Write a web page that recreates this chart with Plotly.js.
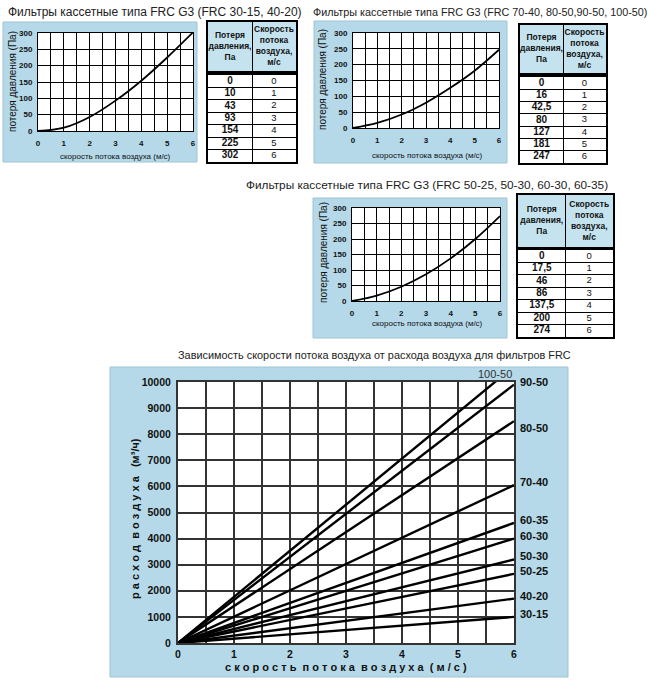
<!DOCTYPE html>
<html>
<head>
<meta charset="utf-8">
<script src="https://cdn.plot.ly/plotly-3.0.1.min.js"></script>
<style>
  html, body { margin: 0; padding: 0; background: #fff; }
  #chart { width: 666px; height: 690px; }
</style>
</head>
<body>
<div id="chart"></div>
<script>
// ---------- data ----------
const speeds = [0, 1, 2, 3, 4, 5, 6];

// pressure loss (Pa) per filter group
const lossA = [0, 10, 43, 93, 154, 225, 302];        // FRC 30-15, 40-20
const lossB = [0, 16, 42.5, 80, 127, 181, 247];      // FRC 70-40, 80-50, 90-50, 100-50
const lossC = [0, 17.5, 46, 86, 137.5, 200, 274];    // FRC 50-25, 50-30, 60-30, 60-35

const tableHeads = ["Потеря<br>давления,<br>Па", "Скорость<br>потока<br>воздуха,<br>м/с"];

// air flow (m3/h) at 0 and 6 m/s for each filter size
const flowModels = ["100-50", "90-50", "80-50", "70-40", "60-35", "60-30", "50-30", "50-25", "40-20", "30-15"];
const flowSpeed = [0, 6];
const flowAt6 = [10600, 9900, 8500, 6050, 4600, 4000, 3200, 2650, 1700, 1000];

const titleA = "Фильтры кассетные типа FRC G3 (FRC 30-15, 40-20)";
const titleB = "Фильтры кассетные типа FRC G3 (FRC 70-40, 80-50,90-50, 100-50)";
const titleC = "Фильтры кассетные типа FRC G3 (FRC 50-25, 50-30, 60-30, 60-35)";
const titleMain = "Зависимость скорости потока воздуха от расхода воздуха для фильтров FRC";
const lossXTitle = "скорость потока воздуха (м/с)";
const lossYTitle = "потеря давления (Па)";
const flowXTitle = "с к о р о с т ь  п о т о к а  в о з д у х а  ( м / с )";
const flowYTitle = "р а с х о д  в о з д у х а   (м³/ч)";

// ---------- helpers ----------
const W = 666, H = 690;
const px = (x) => x / W;
const py = (y) => 1 - y / H;

const FONT = "Liberation Sans, Arial, sans-serif";
const NARROW = "Liberation Sans Narrow, Arial Narrow, Liberation Sans, Arial, sans-serif";
const BLUE = "#b5d9e8";
const HEAD_BLUE = "#c4e3ef";
const CLEAR = "rgba(0,0,0,0)";

const fmt = (v) => String(v).replace(".", ",");

function smallAxes(n, xd, yd) {
  const ax = {};
  ax["xaxis" + n] = {
    domain: xd, anchor: "y" + n, range: [0, 6], dtick: 1, tick0: 0,
    showgrid: true, gridcolor: "#000", gridwidth: 1,
    minor: { dtick: 0.5, showgrid: true, gridcolor: "#000", gridwidth: 1 },
    zeroline: false, showline: true, mirror: true, linecolor: "#000", linewidth: 1,
    ticks: "outside", ticklen: 4, tickcolor: CLEAR,
    tickfont: { family: FONT, size: 8, weight: "bold", color: "#111" },
    fixedrange: true,
  };
  ax["yaxis" + n] = {
    domain: yd, anchor: "x" + n, range: [0, 300], dtick: 50, tick0: 0,
    showgrid: true, gridcolor: "#000", gridwidth: 1,
    zeroline: false, showline: true, mirror: true, linecolor: "#000", linewidth: 1,
    ticks: "outside", ticklen: 3, tickcolor: CLEAR,
    tickfont: { family: FONT, size: 8, weight: "bold", color: "#111" },
    fixedrange: true,
  };
  return ax;
}

function lossTrace(loss, n) {
  return {
    x: speeds, y: loss, xaxis: "x" + n, yaxis: "y" + n,
    type: "scatter", mode: "lines", line: { color: "#000", width: 1.8, shape: "spline" },
    hoverinfo: "x+y", showlegend: false,
  };
}

// a table is two small subplots: header (n) and body (n + 1)
function tableAxes(n, xs, headY, bodyY) {
  const base = {
    range: [-0.5, 1.5], tickvals: [0.5], showticklabels: false, ticks: "",
    showgrid: true, gridcolor: "#000", gridwidth: 1, zeroline: false,
    showline: true, mirror: true, linecolor: "#000", linewidth: 1.5, fixedrange: true,
  };
  const ax = {};
  ax["xaxis" + n] = { ...base, domain: [px(xs[0]), px(xs[1])], anchor: "y" + n };
  ax["yaxis" + n] = { ...base, range: [0, 1], tickvals: [], domain: [py(headY[1]), py(headY[0])], anchor: "x" + n };
  ax["xaxis" + (n + 1)] = { ...base, domain: [px(xs[0]), px(xs[1])], anchor: "y" + (n + 1) };
  ax["yaxis" + (n + 1)] = {
    ...base, range: [speeds.length - 0.5, -0.5], tickvals: speeds.slice(0, -1).map((s) => s + 0.5),
    domain: [py(bodyY[1]), py(bodyY[0])], anchor: "x" + (n + 1),
  };
  return ax;
}

function tableTraces(loss, n) {
  const hx = "x" + n, hy = "y" + n, bx = "x" + (n + 1), by = "y" + (n + 1);
  return [
    {
      x: [0, 1], y: [0.5, 0.5], xaxis: hx, yaxis: hy, type: "scatter", mode: "text",
      text: tableHeads.map((t) => "<b>" + t + "</b>"), textposition: "middle center",
      textfont: { family: NARROW, size: 8.5, color: "#111" }, hoverinfo: "skip", showlegend: false,
    },
    {
      x: loss.map(() => 0), y: speeds.map((s, i) => i), xaxis: bx, yaxis: by, type: "scatter", mode: "text",
      text: loss.map((v) => "<b>" + fmt(v) + "</b>"), textposition: "middle center",
      textfont: { family: NARROW, size: 10, color: "#111" }, hoverinfo: "skip", showlegend: false,
    },
    {
      x: speeds.map(() => 1), y: speeds.map((s, i) => i), xaxis: bx, yaxis: by, type: "scatter", mode: "text",
      text: speeds.map(String), textposition: "middle center",
      textfont: { family: NARROW, size: 9.5, color: "#111" }, hoverinfo: "skip", showlegend: false,
    },
  ];
}

// ---------- traces ----------
const traces = [lossTrace(lossA, ""), lossTrace(lossB, 2), lossTrace(lossC, 3)];

flowModels.forEach((m, i) => {
  traces.push({
    x: flowSpeed, y: [0, flowAt6[i]], xaxis: "x4", yaxis: "y4",
    type: "scatter", mode: "lines", name: m,
    line: { color: "#000", width: 2.4 }, showlegend: false,
  });
});

traces.push(...tableTraces(lossA, 5), ...tableTraces(lossB, 7), ...tableTraces(lossC, 9));

// ---------- layout ----------
const mainAxes = {
  xaxis4: {
    domain: [px(178), px(514)], anchor: "y4", range: [0, 6], dtick: 1, tick0: 0,
    showgrid: true, gridcolor: "#333", gridwidth: 2,
    minor: { dtick: 0.5, showgrid: true, gridcolor: "#333", gridwidth: 2 },
    zeroline: false, showline: true, mirror: true, linecolor: "#333", linewidth: 2,
    ticks: "", tickfont: { family: FONT, size: 10.5, weight: "bold", color: "#111" },
    fixedrange: true,
  },
  yaxis4: {
    domain: [py(643), py(382)], anchor: "x4", range: [0, 10000], dtick: 1000, tick0: 0,
    tickformat: "d",
    showgrid: true, gridcolor: "#333", gridwidth: 2,
    zeroline: false, showline: true, mirror: true, linecolor: "#333", linewidth: 2,
    ticks: "outside", ticklen: 3, tickcolor: CLEAR,
    tickfont: { family: FONT, size: 10.5, weight: "bold", color: "#111" },
    fixedrange: true,
  },
};

const panel = (x0, y0, x1, y1) => ({
  type: "rect", xref: "paper", yref: "paper", layer: "below",
  x0: px(x0), x1: px(x1), y0: py(y1), y1: py(y0),
  fillcolor: BLUE, line: { color: "#9fc4d3", width: 1 },
});
const plotBg = (n, color) => ({
  type: "rect", xref: "x" + n + " domain", yref: "y" + n + " domain", layer: "below",
  x0: 0, x1: 1, y0: 0, y1: 1, fillcolor: color, line: { width: 0 },
});

const shapes = [
  panel(3, 22, 197, 162),
  panel(314, 21, 507, 163),
  panel(313, 198, 507, 338),
  panel(110, 367, 568, 677),
  plotBg("", "#fff"), plotBg(2, "#fff"), plotBg(3, "#fff"), plotBg(4, "#fff"),
  plotBg(5, HEAD_BLUE), plotBg(6, "#fff"),
  plotBg(7, HEAD_BLUE), plotBg(8, "#fff"),
  plotBg(9, HEAD_BLUE), plotBg(10, "#fff"),
];

const note = (text, x, y, size, extra) => ({
  text, xref: "paper", yref: "paper", x: px(x), y: py(y),
  xanchor: "center", yanchor: "middle", showarrow: false,
  font: { family: FONT, size, color: "#222" }, ...(extra || {}),
});

const annotations = [
  note(titleA, 155, 12, 12),
  note(titleB, 480, 12, 10.8),
  note(titleC, 427, 185, 11.8),
  note(titleMain, 374, 355, 10.9),
  // axis titles of the three pressure charts
  note(lossXTitle, 116, 156, 8, { font: { family: NARROW, size: 8, color: "#111" } }),
  note(lossYTitle, 12, 82, 10, { textangle: -90, font: { family: FONT, size: 10, color: "#111" } }),
  note(lossXTitle, 427, 155, 8, { font: { family: NARROW, size: 8, color: "#111" } }),
  note(lossYTitle, 323, 80, 10, { textangle: -90, font: { family: FONT, size: 10, color: "#111" } }),
  note(lossXTitle, 427, 323, 8, { font: { family: NARROW, size: 8, color: "#111" } }),
  note(lossYTitle, 323, 253, 10, { textangle: -90, font: { family: FONT, size: 10, color: "#111" } }),
  // axis titles of the flow chart
  note(flowXTitle, 346, 667, 11, { font: { family: FONT, size: 11, weight: "bold", color: "#111" } }),
  note(flowYTitle, 135, 519, 11, { textangle: -90, font: { family: FONT, size: 11, weight: "bold", color: "#111" } }),
];

// small vertical nudges so the end labels sit like in the print
const labelShift = { "80-50": -10 };

flowModels.forEach((m, i) => {
  if (m === "100-50") {
    annotations.push({
      text: m, xref: "x4", yref: "paper", x: 10000 / flowAt6[i] * 6, y: py(374),
      xanchor: "center", yanchor: "middle", showarrow: false,
      font: { family: FONT, size: 11, color: "#333" },
    });
    return;
  }
  annotations.push({
    text: m, xref: "x4", yref: "y4", x: 6, y: flowAt6[i],
    xanchor: "left", yanchor: "middle", xshift: 4, yshift: 3 + (labelShift[m] || 0),
    showarrow: false,
    font: { family: FONT, size: 11, weight: "bold", color: "#111" },
  });
});

const layout = {
  width: W, height: H,
  margin: { l: 0, r: 0, t: 0, b: 0 },
  paper_bgcolor: "#fff", plot_bgcolor: "#fff",
  showlegend: false,
  font: { family: FONT, color: "#111" },
  shapes, annotations,
  ...smallAxes("", [px(38), px(193)], [py(131), py(33)]),
  ...smallAxes(2, [px(353), px(499)], [py(128), py(33)]),
  ...smallAxes(3, [px(352), px(500)], [py(301), py(208)]),
  ...mainAxes,
  ...tableAxes(5, [208, 296], [22, 71], [75, 162]),
  ...tableAxes(7, [520, 606], [25, 73], [77, 163]),
  ...tableAxes(9, [518, 613], [195, 247], [250, 337]),
};
layout.xaxis.anchor = "y";
layout.yaxis.anchor = "x";

Plotly.newPlot("chart", traces, layout, { displayModeBar: false, responsive: false });
</script>
</body>
</html>
